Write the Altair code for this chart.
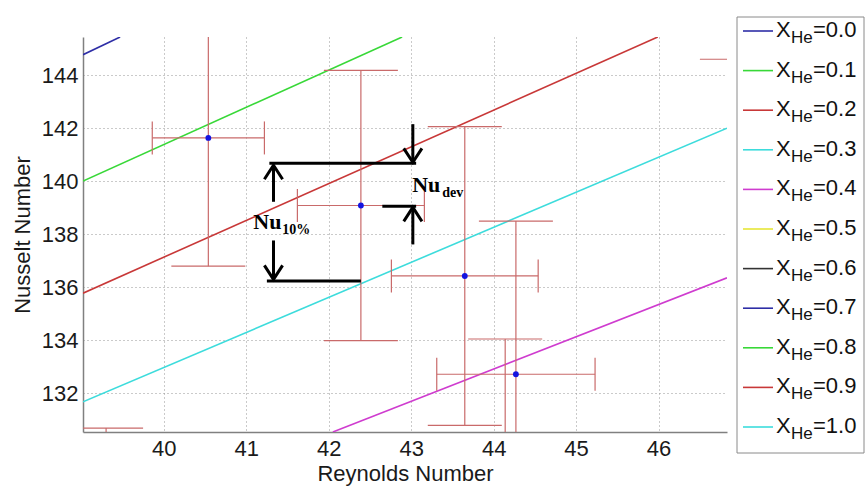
import altair as alt
import pandas as pd

# ---------------- data ----------------
# fitted correlation lines (end points inside the view)
line_key = ["0.0", "0.0", "0.1", "0.1", "0.2", "0.2", "0.3", "0.3", "0.4", "0.4"]
line_re = [39.02, 39.47, 39.02, 42.89, 39.02, 45.99, 39.02, 46.83, 42.05, 46.83]
line_nu = [144.77, 145.44, 140.00, 145.44, 135.77, 145.44, 131.67, 142.00, 130.53, 136.35]

# measured points with error bars (the last three lie outside the view)
pt_re = [40.54, 42.39, 43.65, 44.27, 44.14, 39.30, 46.95]
pt_nu = [141.63, 139.08, 136.42, 132.71, 128.30, 125.00, 150.60]
pt_re_err = [0.68, 0.77, 0.89, 0.96, 0.95, 0.70, 1.00]
pt_nu_err = [4.84, 5.10, 5.64, 5.78, 5.74, 5.68, 6.00]

# annotation: thick black reference lines
hline_re1 = [41.28, 41.25, 42.65]
hline_re2 = [43.06, 42.39, 43.06]
hline_nu = [140.67, 136.23, 139.05]

# annotation: arrows
arrow_re = [41.33, 41.33, 43.02, 43.02]
arrow_from = [139.22, 137.76, 142.15, 137.61]
arrow_tip = [140.60, 136.29, 140.71, 139.01]
arrow_dir = ["up", "down", "down", "up"]

# annotation labels
big_text = ["Nu", "Nu"]
big_re = [41.085, 43.012]
big_nu = [138.19, 139.58]
sub_text = ["10%", "dev"]
sub_re = [41.436, 43.376]
sub_nu = [138.00, 139.41]

# legend
leg_keys = ["0.0", "0.1", "0.2", "0.3", "0.4", "0.5", "0.6", "0.7", "0.8", "0.9", "1.0"]
leg_colors = ["#2e2ea6", "#38d838", "#c83838", "#3ddcdc", "#cf3ccf", "#e6e638",
              "#333333", "#2e2ea6", "#38d838", "#c83838", "#3ddcdc"]

x_ticks = [40, 41, 42, 43, 44, 45, 46]
y_ticks = [132, 134, 136, 138, 140, 142, 144]

# ---------------- tables ----------------
df_lines = pd.DataFrame({"key": line_key, "re": line_re, "nu": line_nu})
df_pts = pd.DataFrame({"re": pt_re, "nu": pt_nu, "rerr": pt_re_err, "nerr": pt_nu_err})
df_pts["re_lo"] = df_pts["re"] - df_pts["rerr"]
df_pts["re_hi"] = df_pts["re"] + df_pts["rerr"]
df_pts["nu_lo"] = df_pts["nu"] - df_pts["nerr"]
df_pts["nu_hi"] = df_pts["nu"] + df_pts["nerr"]
df_h = pd.DataFrame({"re1": hline_re1, "re2": hline_re2, "nu": hline_nu})
df_arr = pd.DataFrame({"re": arrow_re, "nu0": arrow_from, "nu": arrow_tip, "dir": arrow_dir})
df_big = pd.DataFrame({"t": big_text, "re": big_re, "nu": big_nu})
df_sub = pd.DataFrame({"t": sub_text, "re": sub_re, "nu": sub_nu})
df_leg = pd.DataFrame({"key": leg_keys})
df_leg["lab"] = "=" + df_leg["key"]

xs = alt.Scale(domain=[39.02, 46.83], nice=False, zero=False)
ys = alt.Scale(domain=[130.53, 145.44], nice=False, zero=False)
xaxis = alt.Axis(values=x_ticks, format="d", labelPadding=6, titlePadding=4)
yaxis = alt.Axis(values=y_ticks, format="d", labelPadding=5, titlePadding=7)


def X(f):
    return alt.X(f, type="quantitative", scale=xs, axis=xaxis, title="Reynolds Number")


def Y(f):
    return alt.Y(f, type="quantitative", scale=ys, axis=yaxis, title="Nusselt Number")


color = alt.Color("key:N", scale=alt.Scale(domain=leg_keys, range=leg_colors), legend=None)
err_col = "#c96a6a"

lines = alt.Chart(df_lines).mark_line(clip=True, strokeWidth=1.6).encode(
    x=X("re"), y=Y("nu"), color=color, detail="key:N")

vbar = alt.Chart(df_pts).mark_rule(clip=True, color=err_col, strokeWidth=1.2).encode(
    x=X("re"), y=Y("nu_lo"), y2="nu_hi")
hbar = alt.Chart(df_pts).mark_rule(clip=True, color=err_col, strokeWidth=1.2).encode(
    x=X("re_lo"), x2="re_hi", y=Y("nu"))
cap_lo = alt.Chart(df_pts).mark_tick(clip=True, color=err_col, orient="horizontal",
                                     size=74, thickness=1.2, opacity=1).encode(x=X("re"), y=Y("nu_lo"))
cap_hi = alt.Chart(df_pts).mark_tick(clip=True, color=err_col, orient="horizontal",
                                     size=74, thickness=1.2, opacity=1).encode(x=X("re"), y=Y("nu_hi"))
cap_l = alt.Chart(df_pts).mark_tick(clip=True, color=err_col, orient="vertical",
                                    size=33, thickness=1.2, opacity=1).encode(x=X("re_lo"), y=Y("nu"))
cap_r = alt.Chart(df_pts).mark_tick(clip=True, color=err_col, orient="vertical",
                                    size=33, thickness=1.2, opacity=1).encode(x=X("re_hi"), y=Y("nu"))
dots = alt.Chart(df_pts).mark_circle(clip=True, size=34, color="#1414e0", opacity=1).encode(
    x=X("re"), y=Y("nu"))

hl = alt.Chart(df_h).mark_rule(color="black", strokeWidth=3).encode(
    x=X("re1"), x2="re2", y=Y("nu"))
shaft = alt.Chart(df_arr).mark_rule(color="black", strokeWidth=3).encode(
    x=X("re"), y=Y("nu0"), y2="nu")
heads = alt.Chart(df_arr).mark_point(filled=False, strokeWidth=3, size=784, color="black",
                                     opacity=1).encode(
    x=X("re"), y=Y("nu"),
    shape=alt.Shape("dir:N", scale=alt.Scale(domain=["up", "down"],
                                             range=["M-0.65,1L0,0L0.65,1", "M-0.65,-1L0,0L0.65,-1"]),
                    legend=None))
big = alt.Chart(df_big).mark_text(font="Liberation Serif", fontWeight="bold", fontSize=22,
                                  align="left", baseline="alphabetic", color="black").encode(
    x=X("re"), y=Y("nu"), text="t:N")
sub = alt.Chart(df_sub).mark_text(font="Liberation Serif", fontWeight="bold", fontSize=14,
                                  align="left", baseline="alphabetic", color="black").encode(
    x=X("re"), y=Y("nu"), text="t:N")

main = alt.layer(lines, vbar, hbar, cap_lo, cap_hi, cap_l, cap_r, dots, hl, shaft, heads, big, sub)

# ---------------- legend (drawn beside the plot) ----------------
ly = alt.Y("key:N", scale=alt.Scale(type="point", domain=leg_keys, range=[-6, 390], padding=0),
           axis=None)
box = alt.Chart(pd.DataFrame({"a": [0]})).mark_rect(fill="white", stroke="#8a8a8a",
                                                    strokeWidth=1).encode(
    x=alt.value(654), x2=alt.value(781), y=alt.value(-20), y2=alt.value(416))
leg_line = alt.Chart(df_leg).mark_rule(strokeWidth=1.6).encode(
    x=alt.value(660), x2=alt.value(690), y=ly, color=color)
leg_x = alt.Chart(df_leg).mark_text(text="X", font="Liberation Sans", fontSize=22, align="left",
                                    baseline="alphabetic", dy=6, color="#111").encode(
    x=alt.value(693), y=ly)
leg_he = alt.Chart(df_leg).mark_text(text="He", font="Liberation Sans", fontSize=17, align="left",
                                     baseline="alphabetic", dy=12, color="#111").encode(
    x=alt.value(708), y=ly)
leg_val = alt.Chart(df_leg).mark_text(font="Liberation Sans", fontSize=22, align="left",
                                      baseline="alphabetic", dy=6, color="#111").encode(
    x=alt.value(730), y=ly, text="lab:N")
legend = alt.layer(box, leg_line, leg_x, leg_he, leg_val)

chart = alt.layer(main, legend).resolve_scale(x="independent", y="independent").properties(
    width=644, height=395,
    autosize=alt.AutoSizeParams(type="none"),
    padding={"left": 83, "top": 37, "right": 140, "bottom": 57},
).configure_view(strokeWidth=0).configure_axis(
    labelFont="Liberation Sans", labelFontSize=22, labelColor="#1a1a1a",
    titleFont="Liberation Sans", titleFontSize=22, titleFontWeight="normal", titleColor="#1a1a1a",
    domainColor="#808080", domainWidth=1.5, ticks=False,
    grid=True, gridColor="#959595", gridDash=[1, 3], gridWidth=1, gridOpacity=1,
)

chart.save("out.html", embed_options={"renderer": "svg", "actions": False})
